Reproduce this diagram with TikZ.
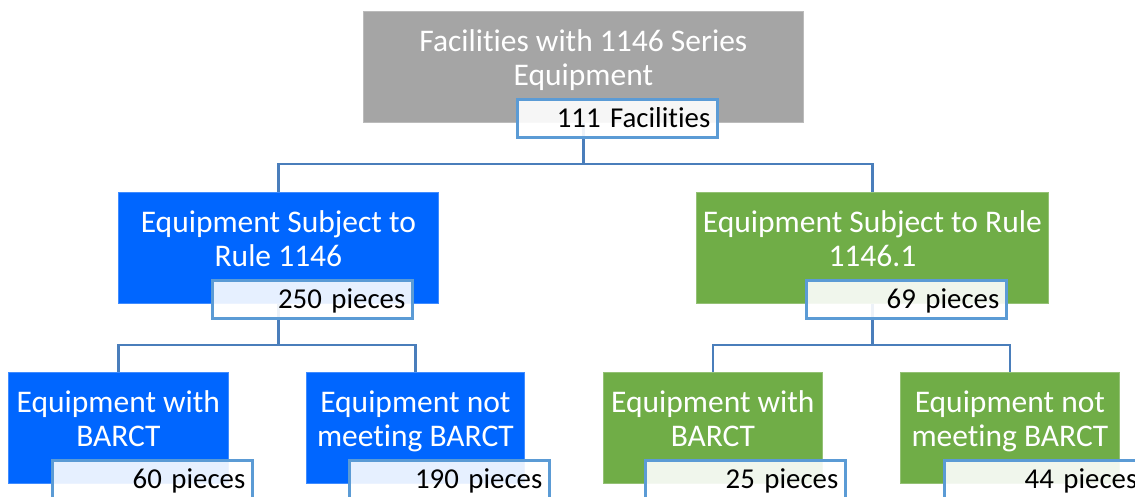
\documentclass[tikz,border=0pt]{standalone}
\usepackage{fontspec}
\setmainfont{Carlito}[Ligatures={NoCommon}]
\definecolor{boxgray}{HTML}{A5A5A5}
\definecolor{boxblue}{HTML}{0066FF}
\definecolor{boxgreen}{HTML}{70AD47}
\definecolor{subblue}{HTML}{5B9BD5}
\definecolor{connblue}{HTML}{4A7EBB}
\newcommand\mysizeA{\fontsize{31.5pt}{34.6pt}\selectfont}
\newcommand\mysizeB{\fontsize{28.8pt}{34pt}\selectfont}
\newcommand\twolines[2]{\rule{0pt}{25pt}#1\\#2\rule[-21.6pt]{0pt}{21.6pt}}
\tikzset{
  bigbox/.style={rectangle, fill=#1, draw=#1!75!white, line width=0.8pt,
    minimum height=111pt, inner sep=0pt, anchor=north west, text=white,
    align=center, font=\mysizeA},
  subbox/.style={rectangle, fill=white, fill opacity=0.9, text opacity=1,
    draw=subblue, line width=2.6pt, minimum height=38pt, text width=186pt,
    inner xsep=7pt, inner ysep=0pt, text height=28pt, text depth=10pt,
    align=right, anchor=north west, font=\mysizeB, text=black},
  conn/.style={draw=connblue, line width=2.2pt}
}
\begin{document}
\begin{tikzpicture}[x=1pt, y=-1pt]
\clip (0,0) rectangle (1135,496);
\fill[white] (0,0) rectangle (1135,496);
% big boxes
\node[bigbox=boxgray, minimum width=440pt] (top) at (363,11) {\twolines{Facilities with 1146 Series}{Equipment}};
\node[bigbox=boxblue, minimum width=320pt] (l) at (118,192) {\twolines{Equipment Subject to}{Rule 1146}};
\node[bigbox=boxgreen, minimum width=352pt] (r) at (696,192) {\twolines{Equipment Subject to Rule}{1146.1}};
\node[bigbox=boxblue, minimum width=220pt] (ll) at (8,372) {\twolines{Equipment with}{BARCT}};
\node[bigbox=boxblue, minimum width=218pt] (lr) at (306,372) {\twolines{Equipment not}{meeting BARCT}};
\node[bigbox=boxgreen, minimum width=219pt] (rl) at (603,372) {\twolines{Equipment with}{BARCT}};
\node[bigbox=boxgreen, minimum width=219pt] (rr) at (900,372) {\twolines{Equipment not}{meeting BARCT}};
% connectors
\draw[conn] (top.south) -- ++(0,41) -| (l.north);
\draw[conn] (top.south) -- ++(0,41) -| (r.north);
\draw[conn] (l.south) -- ++(0,41) -| (ll.north);
\draw[conn] (l.south) -- ++(0,41) -| (lr.north);
\draw[conn] (r.south) -- ++(0,41) -| (rl.north);
\draw[conn] (r.south) -- ++(0,41) -| (rr.north);
% sub boxes
\node[subbox] (topn) at (516,98) {111 Facilities};
\node[subbox] (ln) at (211,279) {250 pieces};
\node[subbox] (rn) at (805,279) {69 pieces};
\node[subbox] (lln) at (51,459) {60 pieces};
\node[subbox] (lrn) at (348,459) {190 pieces};
\node[subbox] (rln) at (644,459) {25 pieces};
\node[subbox] (rrn) at (943,459) {44 pieces};
\end{tikzpicture}
\end{document}
